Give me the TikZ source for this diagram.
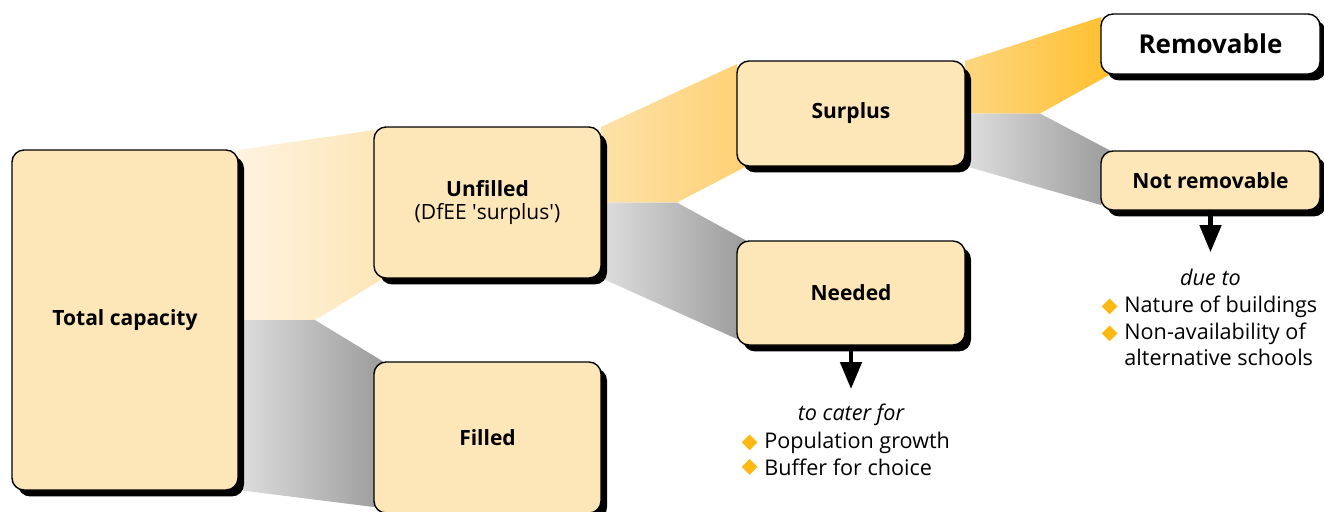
\documentclass[tikz,border=0pt]{standalone}
\usepackage{fontspec}
\setmainfont{Open Sans}
\usepackage{tikz}
\usetikzlibrary{shapes.geometric, arrows.meta, positioning, calc, shadows, backgrounds}
\definecolor{boxfill}{RGB}{253,230,184}
\definecolor{paleL}{RGB}{254,243,224}
\definecolor{orangeL}{RGB}{253,226,168}
\definecolor{orangeR}{RGB}{254,208,115}
\definecolor{deepL}{RGB}{254,214,128}
\definecolor{deepR}{RGB}{255,192,45}
\definecolor{greyL}{RGB}{222,222,222}
\definecolor{greyR}{RGB}{155,155,155}
\definecolor{bulletorange}{RGB}{253,185,19}
\tikzset{
  box/.style={rectangle, draw=black, fill=boxfill, rounded corners=6pt,
    line width=0.7pt, align=center, inner sep=0pt, outer sep=0pt,
    font=\fontsize{10.5}{11.5}\selectfont\bfseries,
    general shadow={fill=black, shadow xshift=3pt, shadow yshift=-3.2pt}},
  whitebox/.style={box, fill=white, font=\fontsize{13}{15}\selectfont\bfseries},
  paleband/.style={left color=paleL, right color=boxfill},
  orangeband/.style={left color=orangeL, right color=orangeR},
  deepband/.style={left color=deepL, right color=deepR},
  greyband/.style={left color=greyL, right color=greyR},
  arrow/.style={-{Triangle[width=10.5pt, length=13.5pt]}, line width=2.3pt},
  note/.style={inner sep=0pt, font=\fontsize{10.8}{13}\selectfont},
  item/.style={note, anchor=base west},
  bullet/.style={diamond, fill=bulletorange, inner sep=0pt, minimum size=8pt}
}

\begin{document}
\begin{tikzpicture}[x=0.5pt, y=-0.5pt]
  \useasboundingbox (0,0) rectangle (1324,511);
  \clip (0,0) rectangle (1324,511);

  % Boxes
  \node[box, minimum width=113pt, minimum height=170pt] (total) at (125,320) {Total capacity};
  \node[box, minimum width=113.5pt, minimum height=75.5pt] (unfilled) at (487.5,202.5) {Unfilled\\{\mdseries (DfEE \textquotesingle surplus\textquotesingle)}};
  \node[box, minimum width=113.5pt, minimum height=75.5pt] (filled) at (487.5,437.5) {Filled};
  \node[box, minimum width=114pt, minimum height=52.5pt] (surplus) at (851,113.5) {Surplus};
  \node[box, minimum width=114pt, minimum height=52pt] (needed) at (851,293) {Needed};
  \node[whitebox, minimum width=109.5pt, minimum height=30pt] (removable) at (1210.5,44) {Removable};
  \node[box, minimum width=109.5pt, minimum height=29.5pt] (notrem) at (1210.5,180.5) {Not removable};

  % Bands
  \begin{scope}[on background layer]
    \shade[paleband] (total.north east) -- ($(unfilled.north west)+(0,3)$) -- ($(unfilled.south west)+(10,0)$) -- ($(total.east)+(77,0)$) -- (total.east) -- cycle;
    \shade[greyband] (total.east) -- ($(total.east)+(77,0)$) -- ($(filled.north west)+(10,0)$) -- ($(filled.south west)+(0,-6)$) -- (total.south east) -- cycle;
    \shade[orangeband] (unfilled.north east) -- ($(surplus.north west)+(0,3)$) -- ($(surplus.south west)+(10,0)$) -- ($(unfilled.east)+(76,0)$) -- (unfilled.east) -- cycle;
    \shade[greyband] (unfilled.east) -- ($(unfilled.east)+(76,0)$) -- ($(needed.north west)+(10,0)$) -- ($(needed.south west)+(0,-6)$) -- (unfilled.south east) -- cycle;
    \shade[deepband] (surplus.north east) -- ($(removable.north west)+(0,3)$) -- ($(removable.south west)+(10,0)$) -- ($(surplus.east)+(75,0)$) -- (surplus.east) -- cycle;
    \shade[greyband] (surplus.east) -- ($(surplus.east)+(75,0)$) -- ($(notrem.north west)+(10,0)$) -- ($(notrem.south west)+(0,-5)$) -- (surplus.south east) -- cycle;
  \end{scope}

  % Needed: reasons
  \node[note, anchor=base, font=\fontsize{10.8}{13}\selectfont\itshape] (cater) at (851,420) {to cater for};
  \node[item] (growth) at (764,448) {Population growth};
  \node[item] (buffer) at (764,475) {Buffer for choice};
  \node[bullet, left=3pt of growth] (bgrowth) {};
  \node[bullet, left=3pt of buffer] (bbuffer) {};

  % Not removable: reasons
  \node[note, anchor=base, font=\fontsize{10.8}{13}\selectfont\itshape] (dueto) at (1210.5,285) {due to};
  \node[item] (nature) at (1124,312) {Nature of buildings};
  \node[item] (nonavail) at (1124,339) {Non-availability of};
  \node[item] (altschools) at (1124,365) {alternative schools};
  \node[bullet, left=3pt of nature] (bnature) {};
  \node[bullet, left=3pt of nonavail] (bnonavail) {};

  % Arrows
  \draw[arrow, shorten >=7pt] (needed.south) -- (cater.north);
  \draw[arrow, shorten >=8pt] (notrem.south) -- (dueto.north);
\end{tikzpicture}
\end{document}
